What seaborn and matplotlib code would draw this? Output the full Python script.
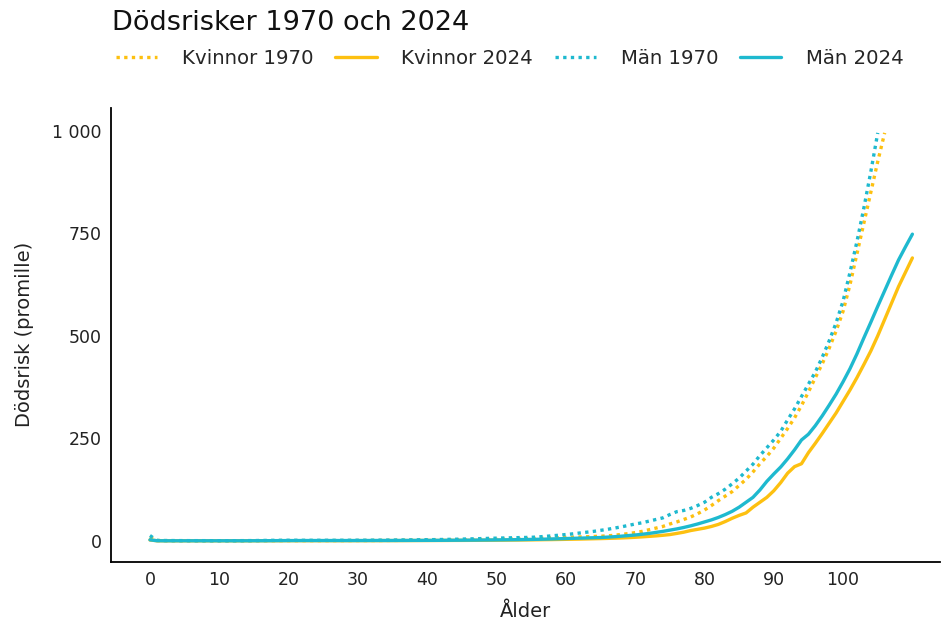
import numpy as np
import pandas as pd
import matplotlib.pyplot as plt
import seaborn as sns
from matplotlib.ticker import FuncFormatter

# Dödsrisk per ålder (promille)
kvinnor_1970 = [
    9.6, 0.8, 0.5, 0.4, 0.3, 0.3, 0.3, 0.2, 0.2, 0.2,
    0.2, 0.2, 0.2, 0.2, 0.3, 0.3, 0.4, 0.4, 0.4, 0.5,
    0.5, 0.5, 0.5, 0.5, 0.5, 0.5, 0.6, 0.6, 0.6, 0.7,
    0.7, 0.7, 0.8, 0.8, 0.9, 1.0, 1.1, 1.2, 1.3, 1.4,
    1.6, 1.7, 1.9, 2.1, 2.3, 2.5, 2.7, 2.9, 3.2, 3.5,
    3.8, 4.1, 4.4, 4.8, 5.2, 5.6, 6.0, 6.5, 7.0, 7.6,
    8.2, 8.8, 9.4, 10.0, 10.6, 11.2, 12.0, 13.5, 15.5, 17.5,
    20, 23, 27, 31, 35, 41, 46, 52, 58, 66,
    75, 86, 98, 109, 120, 135, 150, 168, 188, 206,
    226, 250, 274, 300, 330, 363, 398, 432, 470, 512,
    560, 625, 700, 775, 850, 925, 995,
]
kvinnor_2024 = [
    2.0, 0.2, 0.1, 0.1, 0.1, 0.1, 0.1, 0.1, 0.1, 0.1,
    0.1, 0.1, 0.1, 0.1, 0.1, 0.1, 0.2, 0.2, 0.2, 0.2,
    0.3, 0.3, 0.3, 0.3, 0.3, 0.3, 0.3, 0.3, 0.3, 0.3,
    0.4, 0.4, 0.4, 0.4, 0.5, 0.5, 0.5, 0.6, 0.6, 0.7,
    0.7, 0.8, 0.8, 0.9, 1.0, 1.0, 1.1, 1.2, 1.3, 1.4,
    1.5, 1.6, 1.8, 1.9, 2.1, 2.3, 2.5, 2.8, 3.0, 3.3,
    3.6, 3.9, 4.2, 4.6, 5.0, 5.4, 5.9, 6.4, 7.0, 7.7,
    8.6, 9.6, 10.8, 12, 13.5, 15.2, 18, 21, 25, 28,
    31, 35, 40, 47, 55, 62, 68, 82, 94, 106,
    122, 142, 165, 181, 188, 215, 238, 262, 287, 312,
    340, 368, 398, 430, 463, 500, 540, 580, 620, 655,
    690,
]
man_1970 = [
    12.9, 1.0, 0.7, 0.6, 0.5, 0.5, 0.4, 0.4, 0.4, 0.3,
    0.3, 0.3, 0.3, 0.4, 0.5, 0.6, 0.8, 1.0, 1.2, 1.3,
    1.3, 1.3, 1.2, 1.2, 1.2, 1.2, 1.2, 1.2, 1.3, 1.3,
    1.4, 1.4, 1.5, 1.6, 1.7, 1.8, 2.0, 2.1, 2.3, 2.5,
    2.7, 2.9, 3.2, 3.5, 3.8, 4.2, 4.6, 5.0, 5.5, 6.0,
    6.5, 6.9, 7.3, 7.7, 8.1, 8.5, 9.5, 10.8, 12.2, 13.7,
    15.3, 17, 19, 21, 23, 25.5, 28, 31, 34, 37.5,
    41, 44, 48, 52, 56, 64, 71, 74, 79, 86,
    94, 106, 115, 126, 139, 153, 170, 187, 208, 227,
    246, 267, 295, 322, 352, 382, 412, 448, 488, 532,
    585, 655, 730, 812, 900, 995,
]
man_2024 = [
    2.4, 0.2, 0.1, 0.1, 0.1, 0.1, 0.1, 0.1, 0.1, 0.1,
    0.1, 0.1, 0.1, 0.1, 0.1, 0.2, 0.2, 0.3, 0.4, 0.5,
    0.6, 0.6, 0.7, 0.7, 0.7, 0.7, 0.7, 0.7, 0.7, 0.7,
    0.7, 0.7, 0.8, 0.8, 0.8, 0.8, 0.9, 0.9, 1.0, 1.0,
    1.1, 1.1, 1.2, 1.3, 1.4, 1.5, 1.6, 1.7, 1.9, 2.0,
    2.2, 2.4, 2.6, 2.8, 3.1, 3.4, 3.7, 4.1, 4.5, 5.0,
    5.5, 6.0, 6.5, 7.0, 7.5, 8.0, 9.0, 10.0, 11.3, 12.7,
    14.2, 16, 18, 20.5, 23, 26, 29, 32.5, 36.5, 41,
    46, 51, 57, 64, 72, 82, 94, 106, 124, 145,
    163, 180, 200, 222, 246, 260, 281, 305, 331, 358,
    388, 420, 456, 495, 533, 572, 610, 648, 685, 717,
    748,
]

series = [
    ("Kvinnor 1970", kvinnor_1970, "#FDC010", "dotted"),
    ("Kvinnor 2024", kvinnor_2024, "#FDC010", "solid"),
    ("Män 1970", man_1970, "#1EB9CF", "dotted"),
    ("Män 2024", man_2024, "#1EB9CF", "solid"),
]

sns.set_theme(style="white")
plt.rcParams["font.family"] = ["DejaVu Sans"]

fig = plt.figure(figsize=(9.42, 6.2), dpi=100)
ax = fig.add_axes([0.118, 0.094, 0.880, 0.732])

for name, vals, color, style in series:
    ages = np.arange(len(vals))
    ls = (0, (1, 1.3)) if style == "dotted" else "-"
    sns.lineplot(x=ages, y=vals, ax=ax, color=color, linestyle=ls,
                 linewidth=2.4, label=name)

ax.set_xlim(-5.6, 114)
ax.set_ylim(-51, 1056)
ax.set_xticks(range(0, 101, 10))
ax.set_yticks([0, 250, 500, 750, 1000])
ax.yaxis.set_major_formatter(FuncFormatter(lambda v, p: f"{int(v):,}".replace(",", " ")))
ax.tick_params(length=0, labelsize=12.5, pad=7, colors="#222222")

sns.despine(ax=ax)
for s in ["left", "bottom"]:
    ax.spines[s].set_color("black")
    ax.spines[s].set_linewidth(1.3)

ax.set_xlabel("Ålder", fontsize=14, labelpad=9, color="#222222")
ax.set_ylabel("Dödsrisk (promille)", fontsize=14, labelpad=13, color="#222222")

handles, labels = ax.get_legend_handles_labels()
ax.get_legend().remove()
fig.legend(handles, labels, loc="upper left", bbox_to_anchor=(0.123, 0.921),
           ncol=4, frameon=False, fontsize=14.2, handlelength=2.1,
           handletextpad=1.25, columnspacing=1.1, borderpad=0, borderaxespad=0)

fig.text(0.119, 0.963, "Dödsrisker 1970 och 2024", fontsize=19.5,
         va="center", ha="left", color="#111111")

fig.savefig("out.png", dpi=100)
